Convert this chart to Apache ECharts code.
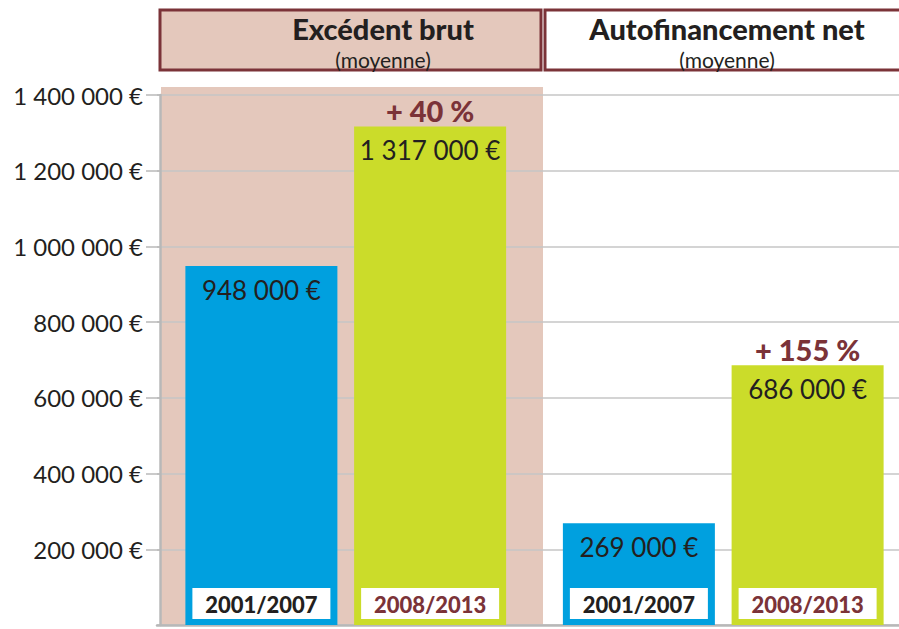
<!DOCTYPE html>
<html>
<head>
<meta charset="utf-8">
<script src="https://cdn.jsdelivr.net/npm/echarts@6/dist/echarts.min.js"></script>
<style>
html,body{margin:0;padding:0;background:#fff;}
#main{width:899px;height:629px;}
</style>
</head>
<body>
<div id="main"></div>
<script>
// ---- data ----
var categories = ['Excédent brut', 'Autofinancement net'];
var periods = ['2001/2007', '2008/2013'];
var values2001_2007 = [948000, 269000];
var values2008_2013 = [1317000, 686000];
var growthLabels = ['+ 40 %', '+ 155 %'];
var yTicks = [0, 200000, 400000, 600000, 800000, 1000000, 1200000, 1400000];
var subtitle = '(moyenne)';

// ---- styles ----
var BLUE = '#00a0df', GREEN = '#cbdc2a', PINK = '#e4c8bc', MAROON = '#7b3338', INK = '#231f20', GRAY = '#b8b8b8';
var FONT = 'Lato, "Open Sans", sans-serif';

function fmt(v) {
  return String(v).replace(/\B(?=(\d{3})+(?!\d))/g, ' ') + ' €';
}

var chart = echarts.init(document.getElementById('main'), null, {renderer: 'svg'});

var barCommon = {barWidth: 152, barGap: '11%'};

var option = {
  animation: false,
  backgroundColor: '#ffffff',
  grid: {left: 157, top: 95, bottom: 4, right: -13, outerBoundsMode: 'none', containLabel: false},
  xAxis: [
    {type: 'category', data: categories, axisLine: {show: true, lineStyle: {color: GRAY, width: 2.5}},
     axisTick: {show: false}, axisLabel: {show: false}, splitLine: {show: false}},
    {type: 'category', data: categories, show: false, position: 'bottom'}
  ],
  yAxis: {
    type: 'value', min: yTicks[0], max: yTicks[yTicks.length - 1], interval: yTicks[1] - yTicks[0],
    offset: -3,
    axisLine: {show: true, lineStyle: {color: GRAY, width: 2.5}},
    axisTick: {show: true, length: 14, lineStyle: {color: GRAY, width: 1.5}},
    splitLine: {show: true, lineStyle: {color: '#c6c6c6', width: 1.5}},
    axisLabel: {showMinLabel: false, margin: 17, color: INK, fontFamily: FONT, fontSize: 24,
      formatter: function (v) { return fmt(v); }}
  },
  graphic: [
    {type: 'rect', z: -10, shape: {x: 161, y: 87, width: 382, height: 538}, style: {fill: PINK}},
    {type: 'rect', shape: {x: 160, y: 10, width: 381, height: 60}, style: {fill: PINK, stroke: MAROON, lineWidth: 3}},
    {type: 'rect', shape: {x: 545, y: 10, width: 360, height: 60}, style: {fill: '#ffffff', stroke: MAROON, lineWidth: 3}},
    {type: 'text', x: 383, y: 28, style: {text: categories[0], fill: INK, font: '900 29px ' + FONT, textAlign: 'center', textVerticalAlign: 'middle'}},
    {type: 'text', x: 383, y: 59, style: {text: subtitle, fill: INK, font: '400 21px ' + FONT, textAlign: 'center', textVerticalAlign: 'middle'}},
    {type: 'text', x: 727, y: 28, style: {text: categories[1], fill: INK, font: '900 29px ' + FONT, textAlign: 'center', textVerticalAlign: 'middle'}},
    {type: 'text', x: 727, y: 59, style: {text: subtitle, fill: INK, font: '400 21px ' + FONT, textAlign: 'center', textVerticalAlign: 'middle'}}
  ],
  series: [
    Object.assign({
      name: periods[0], type: 'bar', data: values2001_2007, itemStyle: {color: BLUE},
      label: {show: true, position: 'insideTop', distance: 8, color: INK, fontFamily: FONT, fontSize: 26, lineHeight: 32,
        formatter: function (p) { return fmt(p.value); }}
    }, barCommon),
    Object.assign({
      name: periods[1], type: 'bar', data: values2008_2013, itemStyle: {color: GREEN},
      label: {show: true, position: 'insideTop', distance: 0, offset: [0, -31],
        formatter: function (p) { return '{p|' + growthLabels[p.dataIndex] + '}\n{v|' + fmt(p.value) + '}'; },
        rich: {
          p: {color: MAROON, fontFamily: FONT, fontWeight: 900, fontSize: 29, lineHeight: 30},
          v: {color: INK, fontFamily: FONT, fontSize: 26, lineHeight: 50}
        }}
    }, barCommon),
    Object.assign({
      name: periods[0] + ' label', type: 'bar', xAxisIndex: 1, data: values2001_2007, silent: true,
      itemStyle: {color: 'rgba(0,0,0,0)'},
      label: {show: true, position: 'insideBottom', distance: 6, formatter: periods[0],
        backgroundColor: '#ffffff', width: 138, height: 25, padding: [4, 0, 2, 0], align: 'center', lineHeight: 25,
        color: INK, fontFamily: FONT, fontWeight: 900, fontSize: 22}
    }, barCommon),
    Object.assign({
      name: periods[1] + ' label', type: 'bar', xAxisIndex: 1, data: values2008_2013, silent: true,
      itemStyle: {color: 'rgba(0,0,0,0)'},
      label: {show: true, position: 'insideBottom', distance: 6, formatter: periods[1],
        backgroundColor: '#ffffff', width: 138, height: 25, padding: [4, 0, 2, 0], align: 'center', lineHeight: 25,
        color: MAROON, fontFamily: FONT, fontWeight: 900, fontSize: 22}
    }, barCommon)
  ]
};
chart.setOption(option);
</script>
</body>
</html>
